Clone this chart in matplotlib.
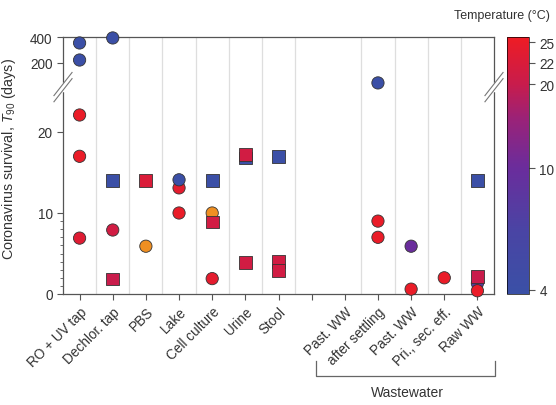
import numpy as np
import matplotlib
matplotlib.use('Agg')
import matplotlib.pyplot as plt
from matplotlib.colors import LinearSegmentedColormap, FuncNorm
from matplotlib.cm import ScalarMappable
import matplotlib.transforms as mtransforms

plt.rcParams['font.family'] = ['Liberation Sans', 'DejaVu Sans']
plt.rcParams['mathtext.fontset'] = 'custom'
plt.rcParams['mathtext.rm'] = 'Liberation Sans'
plt.rcParams['mathtext.it'] = 'Liberation Sans:italic'

# categories along x (index 7 is an unlabeled slot)
categories = ['RO + UV tap', 'Dechlor. tap', 'PBS', 'Lake', 'Cell culture', 'Urine',
              'Stool', '', 'Past. WW', 'after settling', 'Past. WW',
              'Pri., sec. eff.', 'Raw WW']
grid_pos = [0.5, 1.5, 2.5, 3.5, 4.5, 5.5, 6.5, 8.5, 9.5, 10.5, 11.5]

# circles: category index, T90 (days), temperature (C); 37 C drawn orange
circle_x = [0, 0, 0, 0, 0, 1, 1, 2, 3, 3, 3, 4, 4, 9, 9, 9, 10, 10, 11, 12, 12]
circle_t90 = [341, 216, 22.1, 17.0, 6.9, 390, 7.9, 5.9, 13.1, 10.0, 14.1, 10.0, 1.9,
              117, 9.0, 7.0, 5.9, 0.6, 2.0, 1.3, 0.4]
circle_temp = [4, 4, 25, 25, 23, 4, 21, 37, 24, 25, 4, 37, 24,
               4, 25, 25, 10, 25, 25, 8, 25]

# squares
square_x = [1, 1, 2, 4, 4, 5, 5, 5, 6, 6, 6, 12, 12]
square_t90 = [14.0, 1.85, 14.0, 14.0, 8.9, 16.8, 17.2, 3.9, 17.0, 4.0, 2.9, 14.0, 2.2]
square_temp = [4, 20, 22, 4, 21, 4, 21, 21, 4, 21, 21, 4, 20]

cbar_ticks = [4, 10, 20, 22, 25]
y_ticks = [0, 10, 20, 200, 400]


# broken y axis: linear 0-25.5, log above
def fwd(v):
    v = np.asarray(v, float)
    lo = v * 8.1
    hi = 257 - 86 * np.log10(400 / np.maximum(v, 1e-6))
    return np.where(v <= 25.5, lo, np.maximum(hi, 25.5 * 8.1))


def inv(p):
    p = np.asarray(p, float)
    return np.where(p <= 25.5 * 8.1, p / 8.1, 400 / 10 ** ((257 - p) / 86))


# temperature colour scale (uneven spacing like the reference bar)
t_anchor = [3.8, 4, 10, 20, 22, 25, 25.75]
f_anchor = [0, 0.016, 0.49, 0.817, 0.899, 0.98, 1.0]


def tfwd(t):
    t = np.asarray(t, float)
    f = np.interp(t, t_anchor, f_anchor)
    return np.where(t > t_anchor[-1], 1 + (t - t_anchor[-1]) * 0.01, f)


def tinv(f):
    f = np.asarray(f, float)
    t = np.interp(f, f_anchor, t_anchor)
    return np.where(f > 1, t_anchor[-1] + (f - 1) / 0.01, t)


cmap = LinearSegmentedColormap.from_list('temp', [
    (0.0, '#3a50a6'), (0.25, '#4a44a4'), (0.49, '#6a2d9c'),
    (0.68, '#9a2278'), (0.817, '#c81c4c'), (1.0, '#ee1c24')])
cmap = cmap.with_extremes(over='#ef8f22')
norm = FuncNorm((tfwd, tinv), vmin=3.8, vmax=25.75)

fig = plt.figure(figsize=(5.56, 4.06), dpi=100)
ax = fig.add_axes([63 / 556, 1 - 295 / 406, 431 / 556, 257 / 406])
ax.set_yscale('function', functions=(fwd, inv))
ax.set_ylim(0, 400)
ax.set_xlim(-0.5, 12.5)

for g in grid_pos:
    ax.axvline(g, color='#dedede', lw=0.9, zorder=0)

ax.scatter(circle_x, circle_t90, c=circle_temp, cmap=cmap, norm=norm, s=78,
           marker='o', edgecolors='#333333', linewidths=0.6, zorder=3, clip_on=False)
ax.scatter(square_x, square_t90, c=square_temp, cmap=cmap, norm=norm, s=85,
           marker='s', edgecolors='#333333', linewidths=0.6, zorder=3, clip_on=False)

ax.set_xticks(range(len(categories)))
ax.set_xticklabels(categories, rotation=45, ha='right', rotation_mode='anchor',
                   fontsize=9.8, color='#333333')
ax.set_yticks(y_ticks)
ax.set_yticklabels([str(v) for v in y_ticks], fontsize=9.8, color='#333333')
ax.set_yticks(range(1, 10), minor=True)
ax.tick_params(axis='both', which='major', direction='out', length=4, width=0.8,
               color='#555555')
ax.tick_params(axis='y', which='minor', direction='out', length=2.5, width=0.6,
               color='#555555')
ax.tick_params(axis='x', which='minor', bottom=False)
for sp in ax.spines.values():
    sp.set_color('#555555')
    sp.set_linewidth(0.9)

ax.set_ylabel(r'Coronavirus survival, $T_{90}$ (days)', fontsize=10.3, color='#333333')
ax.yaxis.set_label_coords(-0.104, 0.53)

# break marks on both side spines
yb = 0.805
for xs in (0, 1):
    ax.plot([xs, xs], [yb - 0.013, yb + 0.013], transform=ax.transAxes, color='white',
            lw=2.5, clip_on=False, zorder=5)
    for off in (-0.012, 0.012):
        ax.plot([xs - 0.021, xs + 0.021], [yb + off - 0.045, yb + off + 0.045],
                transform=ax.transAxes, color='#777777', lw=0.8, clip_on=False, zorder=6)

# wastewater bracket
trans = mtransforms.blended_transform_factory(ax.transData, fig.transFigure)
ax.plot([7.13, 7.13, 12.54, 12.54], [1 - 362 / 406, 1 - 377 / 406, 1 - 377 / 406, 1 - 362 / 406],
        transform=trans, color='#666666', lw=0.9, clip_on=False)
ax.text(9.88, 1 - 393 / 406, 'Wastewater', transform=trans, ha='center', va='center',
        fontsize=10, color='#333333')

# colour bar
cax = fig.add_axes([507 / 556, 1 - 295 / 406, 22 / 556, 257 / 406])
cb = fig.colorbar(ScalarMappable(norm=norm, cmap=cmap), cax=cax)
cb.set_ticks(cbar_ticks)
cb.set_ticklabels([str(t) for t in cbar_ticks])
cb.ax.tick_params(labelsize=9.8, labelcolor='#333333', length=4, width=0.8,
                  color='#555555', direction='out')
cb.ax.minorticks_off()
cb.outline.set_linewidth(0.5)
fig.text(550 / 556, 1 - 16 / 406, 'Temperature (°C)', ha='right', va='center',
         fontsize=9, color='#333333')

fig.savefig('out.png', dpi=100)
